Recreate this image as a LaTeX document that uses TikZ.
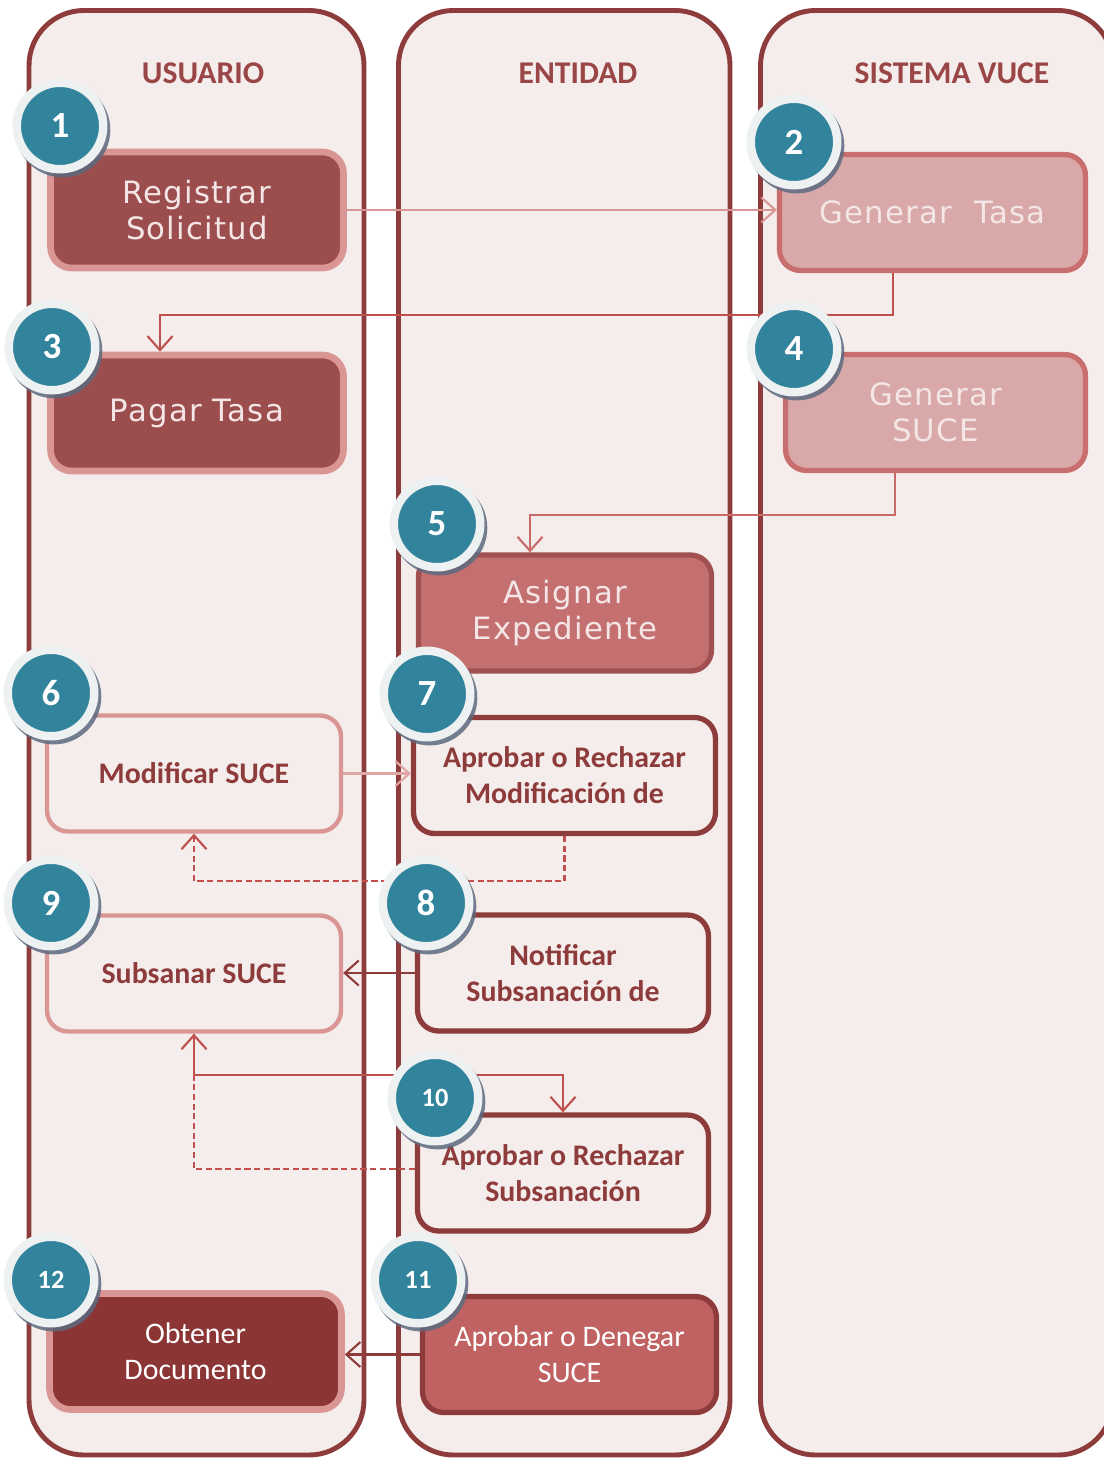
\documentclass[tikz,border=0pt]{standalone}
\usepackage{fontspec}
\setmainfont{Carlito}
\newfontfamily\vfont[LetterSpace=4]{DejaVu Sans}
\usepackage{tikz}
\usetikzlibrary{arrows.meta,shadows}

\definecolor{laneedge}{HTML}{8E3B3B}
\definecolor{lanefill}{HTML}{F5ECEC}
\definecolor{titlecol}{HTML}{9A4646}
\definecolor{darkfill}{HTML}{9C4D4D}
\definecolor{lightedge}{HTML}{D99694}
\definecolor{softfill}{HTML}{D9A8A8}
\definecolor{softedge}{HTML}{C86E6E}
\definecolor{midfill}{HTML}{C47070}
\definecolor{midedge}{HTML}{A05050}
\definecolor{denyfill}{HTML}{C06262}
\definecolor{docfill}{HTML}{8B3535}
\definecolor{boxtext}{HTML}{F4E6E6}
\definecolor{numfill}{HTML}{31849B}
\definecolor{ringcol}{HTML}{EEF1F1}
\definecolor{shadowcol}{HTML}{5C6A80}
\definecolor{linkred}{HTML}{C0504D}
\definecolor{linkpink}{HTML}{D99694}

\begin{document}
\begin{tikzpicture}[x=0.02cm, y=-0.02cm,
  lane/.style={draw=laneedge, line width=2.8pt, fill=lanefill, rounded corners=1.1cm},
  lanetitle/.style={text=titlecol, font=\fontsize{18}{20}\selectfont\bfseries},
  box/.style={rectangle, rounded corners=0.42cm, align=center, inner sep=0pt,
    minimum height=2.32cm, line width=3pt},
  vbox/.style={box, text=boxtext, font=\vfont\fontsize{17.5}{20.5}\selectfont},
  cbox/.style={box, fill=lanefill, text=laneedge, font=\fontsize{17}{20.5}\selectfont\bfseries},
  wbox/.style={box, text=white, font=\fontsize{17}{20.5}\selectfont},
  darkbox/.style={vbox, fill=darkfill, draw=lightedge, line width=3.8pt},
  softbox/.style={vbox, fill=softfill, draw=softedge},
  midbox/.style={vbox, fill=midfill, draw=midedge},
  lightbox/.style={cbox, draw=lightedge, line width=2.5pt},
  strongbox/.style={cbox, draw=laneedge},
  num/.style={circle, minimum size=1.73cm, inner sep=0pt, fill=numfill, draw=ringcol,
    line width=4.8pt, text=white, font=\fontsize{21}{21}\selectfont\bfseries,
    drop shadow={shadow scale=1.1, shadow xshift=0.05cm, shadow yshift=-0.07cm,
      fill=shadowcol, opacity=0.85}},
  smallnum/.style={num, font=\fontsize{15}{15}\selectfont\bfseries},
  link/.style={line width=1.2pt, -{Straight Barb[length=0.28cm, width=0.5cm]}},
  back/.style={link, dash pattern=on 3.5pt off 2pt}
]
\useasboundingbox (0,0) rectangle (1103,1459);

% lanes
\draw[lane] (29,10.5) rectangle (364,1455);
\draw[lane] (398.5,10.5) rectangle (730,1455);
\draw[lane] (760.5,10.5) rectangle (1113,1455);
\node[lanetitle] (tusu) at (203,73) {USUARIO};
\node[lanetitle] (tent) at (578,73) {ENTIDAD};
\node[lanetitle] (tsis) at (952,73) {SISTEMA VUCE};

% steps
\node[darkbox, minimum width=5.86cm] (reg) at (197,210) {Registrar\\Solicitud};
\node[softbox, minimum width=6.12cm] (gentasa) at (932.5,212.5) {Generar\ \ Tasa};
\node[darkbox, minimum width=5.86cm] (pagar) at (197,413) {Pagar Tasa};
\node[softbox, minimum width=6.0cm] (gensuce) at (935.5,412.5) {Generar\\SUCE};
\node[midbox, minimum width=5.86cm] (asignar) at (565,613) {Asignar\\Expediente};
\node[lightbox, minimum width=5.88cm] (modif) at (194,773.5) {Modificar SUCE};
\node[strongbox, minimum width=6.04cm] (aprmod) at (564.5,775.5) {Aprobar o Rechazar\\Modificación de};
\node[strongbox, minimum width=5.82cm] (notif) at (563,973) {Notificar\\Subsanación de};
\node[lightbox, minimum width=5.88cm] (subsanar) at (194,973.5) {Subsanar SUCE};
\node[strongbox, minimum width=5.82cm] (aprsub) at (563,1173) {Aprobar o Rechazar\\Subsanación};
\node[wbox, fill=denyfill, draw=laneedge, minimum width=5.88cm] (aprden) at (569.5,1354.5) {Aprobar o Denegar\\SUCE};
\node[wbox, fill=docfill, draw=lightedge, line width=3.8pt, minimum width=5.84cm] (obtener) at (195.5,1351.5) {Obtener\\Documento};

% links
\draw[link, linkpink] (reg.east) -- (reg.east -| gentasa.west);
\draw[link, linkred] ([xshift=-0.79cm]gentasa.south) -- ++(0,42) -| ([xshift=-0.74cm]pagar.north);
\draw[link, linkred!85] ([xshift=-0.81cm]gensuce.south) -- ++(0,42) -| ([xshift=-0.7cm]asignar.north);
\draw[link, linkpink!85] (modif.east) -- (modif.east -| aprmod.west);
\draw[back, linkred] (aprmod.south) -- ++(0,45) -| (modif.south);
\draw[link, laneedge] (notif.west) -- (notif.west -| subsanar.east);
\draw[back, linkred] ([yshift=0.08cm]aprsub.west) -| (subsanar.south);
\draw[link, linkred] (subsanar.south) -- ++(0,41) -| (aprsub.north);
\draw[link, laneedge] (aprden.west) -- (aprden.west -| obtener.east);

% numbers
\node[num] (n1) at (60,126) {1};
\node[num] (n2) at (794,142) {2};
\node[num] (n3) at (52,347) {3};
\node[num] (n4) at (794,349) {4};
\node[num] (n5) at (437,524) {5};
\node[num] (n6) at (51,693) {6};
\node[num] (n7) at (427,694) {7};
\node[num] (n8) at (426,903) {8};
\node[num] (n9) at (51,903) {9};
\node[smallnum] (n10) at (435,1098) {10};
\node[smallnum] (n11) at (418,1280) {11};
\node[smallnum] (n12) at (51,1280) {12};
\end{tikzpicture}
\end{document}
